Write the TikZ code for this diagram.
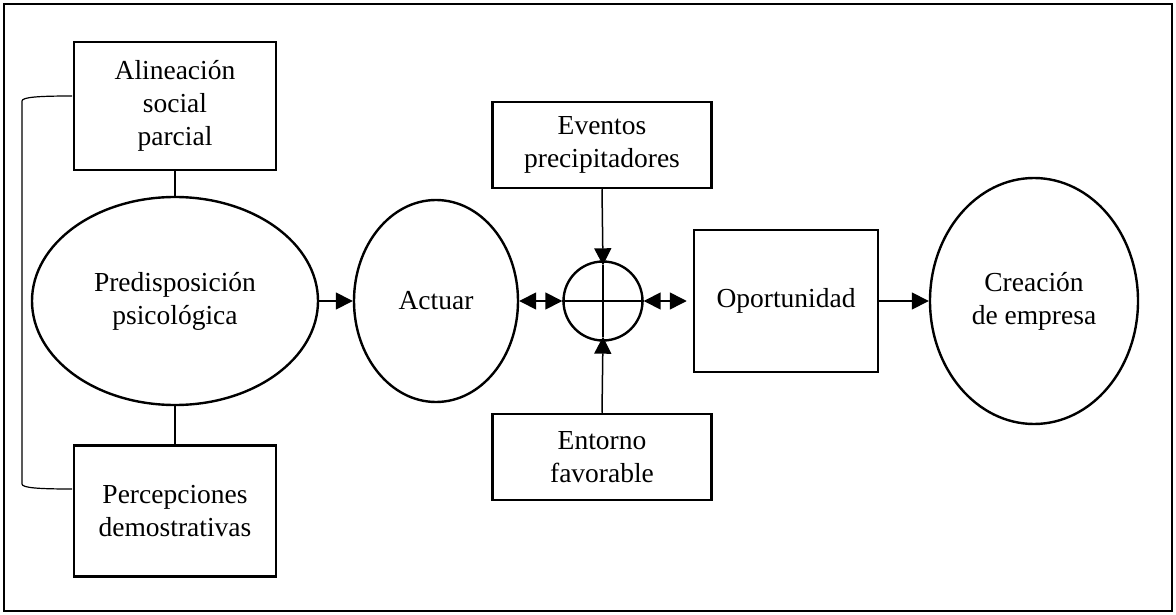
\documentclass[tikz,border=0pt]{standalone}
\usepackage{fontspec}
\setmainfont{Liberation Serif}
\usetikzlibrary{arrows.meta,shapes.geometric}
\begin{document}
\begin{tikzpicture}[x=1pt,y=-1pt,
  every node/.style={font=\fontsize{27.5}{33}\selectfont, align=center, inner sep=0pt},
  boxs/.style={draw, line width=2.5pt, rectangle},
  ovals/.style={draw, line width=2.4pt, ellipse},
  conn/.style={line width=1.5pt},
  tipd/.tip={Triangle[length=17pt,width=17pt]},
  arr/.style={conn, -tipd},
  darr/.style={conn, tipd-tipd},
  brack/.style={line width=1.2pt}]
\useasboundingbox (0,0) rectangle (1176,615);
\draw[line width=2.6pt] (4,4) rectangle (1172,611);

\node[boxs, minimum width=202pt, minimum height=128pt] (alin) at (175,106) {Alineación\\social\\parcial};
\node[boxs, minimum width=202pt, minimum height=131pt] (perc) at (175,511) {Percepciones\\demostrativas};
\node[ovals, minimum width=286pt, minimum height=208pt] (pred) at (175,301) {Predisposición\\psicológica};
\node[ovals, minimum width=164pt, minimum height=202pt] (act) at (436,301) {Actuar};
\node[draw, line width=2.4pt, circle, minimum size=79pt] (junc) at (603,301) {};
\node[boxs, minimum width=219pt, minimum height=86pt] (even) at (602,145) {Eventos\\precipitadores};
\node[boxs, minimum width=219pt, minimum height=86pt] (ento) at (602,457) {Entorno\\favorable};
\node[boxs, minimum width=184pt, minimum height=142pt] (opor) at (786,301) {Oportunidad};
\node[ovals, minimum width=208pt, minimum height=246pt] (crea) at (1034,301) {Creación\\de empresa};

\coordinate (jt) at ([yshift=-5pt]junc.north);
\coordinate (jb) at ([yshift=5pt]junc.south);
\coordinate (ot) at ([xshift=-6pt]opor.west);

\draw[conn] (alin.south) -- (pred.north);
\draw[conn] (perc.north) -- (pred.south);
\draw[arr] (pred.east) -- (act.west);
\draw[darr] (act.east) -- (junc.west);
\draw[conn] (junc.west) -- (junc.east);
\draw[conn] (jt) -- (jb);
\draw[darr] (junc.east) -- (ot);
\draw[arr] (even.south) -- (jt);
\draw[arr] (ento.north) -- (jb);
\draw[arr] (opor.east) -- (crea.west);

\coordinate (bt) at (72,96);
\coordinate (bb) at (72,489);
\draw[brack] (bt) .. controls (40,96) and (22,97) .. (22,101) -- (22,484) .. controls (22,488) and (40,489) .. (bb);
\end{tikzpicture}
\end{document}
